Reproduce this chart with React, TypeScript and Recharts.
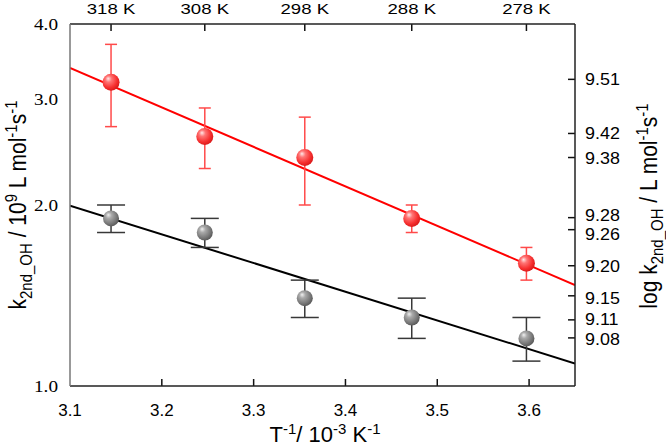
import React from 'react';
import { ComposedChart, XAxis, YAxis, Scatter, Line, ErrorBar, ReferenceLine } from 'recharts';

const temperatures = [318, 308, 298, 288, 278];
const inverseT = [3.1447, 3.2468, 3.3557, 3.4722, 3.5971];
const redK = [3.2, 2.6, 2.4, 1.9, 1.6];
const redErr = [0.5, 0.3, 0.4, 0.1, 0.1];
const grayK = [1.9, 1.8, 1.4, 1.3, 1.2];
const grayErr = [0.1, 0.1, 0.1, 0.1, 0.1];
const fitX = [3.1, 3.65];
const redFitK = [3.38, 1.472];
const grayFitK = [1.995, 1.09];
const bottomTicks = [3.1, 3.2, 3.3, 3.4, 3.5, 3.6];
const leftTicks = [1, 2, 3, 4];
const rightTicks = [9.08, 9.11, 9.15, 9.2, 9.26, 9.28, 9.38, 9.42, 9.51];

const X_DOMAIN: [number, number] = [3.1, 3.65];
const RIGHT_DOMAIN: [number, number] = [9, 9.60206];

const redData = inverseT.map((x, i) => ({ x, y: redK[i], err: redErr[i] }));
const grayData = inverseT.map((x, i) => ({ x, y: grayK[i], err: grayErr[i] }));
const redFit = fitX.map((x, i) => ({ x, y: redFitK[i] }));
const grayFit = fitX.map((x, i) => ({ x, y: grayFitK[i] }));

const SANS = 'Liberation Sans, Arial, sans-serif';
const SERIF = 'Liberation Serif, Times New Roman, serif';

// plot frame (layout only)
const PLOT_LEFT = 70;
const PLOT_RIGHT = 575;
const PLOT_TOP = 24;
// inward tick mark lengths, expressed in axis units (about 7 px)
const TICK_DY = 0.0116;
const TICK_DX = 0.0076;
// small label nudges to keep crowded right-axis labels apart (layout only)
const rightNudge: Record<string, number> = { '9.28': -3, '9.26': 4, '9.15': 2, '9.11': -1, '9.08': 1 };

const RedBall = (p: any) => <circle cx={p.cx} cy={p.cy} r={8.5} fill="url(#redSphere)" />;
const GrayBall = (p: any) => <circle cx={p.cx} cy={p.cy} r={8} fill="url(#graySphere)" />;

const BottomTick = (p: any) => (
  <text x={p.x} y={386 + 30} textAnchor="middle" fontSize={17} fontFamily={SANS} fill="#000">
    {Number(p.payload.value).toFixed(1)}
  </text>
);

const TopTick = (p: any) => {
  const i = inverseT.indexOf(p.payload.value);
  return (
    <text
      transform={`translate(${p.x},${PLOT_TOP - 10}) scale(1.2,1)`}
      textAnchor="middle"
      fontSize={15.5}
      fontFamily={SANS}
      fill="#000"
    >
      {i >= 0 ? `${temperatures[i]} K` : ''}
    </text>
  );
};

const RightTick = (p: any) => {
  const label = Number(p.payload.value).toFixed(2);
  const dy = rightNudge[label] || 0;
  return (
    <text
      transform={`translate(${PLOT_RIGHT + 10},${p.y + 6 + dy}) scale(1.12,1)`}
      textAnchor="start"
      fontSize={16}
      fontFamily={SANS}
      fill="#000"
    >
      {label}
    </text>
  );
};

const LeftTick = (p: any) => (
  <text
    transform={`translate(${PLOT_LEFT - 12},${p.y + 6}) scale(1.2,1)`}
    textAnchor="end"
    fontSize={16}
    fontFamily={SERIF}
    fill="#000"
  >
    {Number(p.payload.value).toFixed(1)}
  </text>
);

export default function App() {
  const tickMarks = [
    ...bottomTicks.filter((t) => t > X_DOMAIN[0]).map((t) => [
      { x: t, y: RIGHT_DOMAIN[0] },
      { x: t, y: RIGHT_DOMAIN[0] + TICK_DY },
    ]),
    ...inverseT.map((t) => [
      { x: t, y: RIGHT_DOMAIN[1] },
      { x: t, y: RIGHT_DOMAIN[1] - TICK_DY },
    ]),
    ...rightTicks.map((v) => [
      { x: X_DOMAIN[1], y: v },
      { x: X_DOMAIN[1] - TICK_DX, y: v },
    ]),
  ];
  return (
    <div style={{ position: 'absolute', left: 0, top: 0, width: 666, height: 448, background: '#fff' }}>
      <svg width={0} height={0} style={{ position: 'absolute' }}>
        <defs>
          <radialGradient id="redSphere" cx="40%" cy="38%" r="62%" fx="33%" fy="28%">
            <stop offset="0%" stopColor="#ffe8e8" />
            <stop offset="30%" stopColor="#ff7575" />
            <stop offset="75%" stopColor="#f63030" />
            <stop offset="100%" stopColor="#dc1c1c" />
          </radialGradient>
          <radialGradient id="graySphere" cx="40%" cy="38%" r="62%" fx="33%" fy="28%">
            <stop offset="0%" stopColor="#f0f0f0" />
            <stop offset="30%" stopColor="#aaaaaa" />
            <stop offset="75%" stopColor="#7a7a7a" />
            <stop offset="100%" stopColor="#5c5c5c" />
          </radialGradient>
        </defs>
      </svg>
      <ComposedChart width={666} height={448} margin={{ top: 0, right: 0, bottom: 0, left: 0 }}>
        <XAxis
          xAxisId="bottom"
          dataKey="x"
          type="number"
          domain={X_DOMAIN}
          ticks={bottomTicks}
          interval={0}
          allowDataOverflow
          height={62}
          stroke="#222"
          strokeWidth={1.5}
          tickLine={false}
          tick={BottomTick}
        />
        <XAxis
          xAxisId="top"
          orientation="top"
          dataKey="x"
          type="number"
          domain={X_DOMAIN}
          ticks={inverseT}
          interval={0}
          allowDataOverflow
          height={24}
          stroke="#222"
          strokeWidth={1.5}
          tickLine={false}
          tick={TopTick}
        />
        <YAxis
          yAxisId="left"
          type="number"
          scale="log"
          domain={[1, 4]}
          ticks={leftTicks}
          interval={0}
          allowDataOverflow
          width={70}
          stroke="#777"
          strokeWidth={1.5}
          tickLine={false}
          tick={LeftTick}
        />
        <YAxis
          yAxisId="right"
          orientation="right"
          type="number"
          domain={RIGHT_DOMAIN}
          ticks={rightTicks}
          interval={0}
          allowDataOverflow
          width={91}
          stroke="#222"
          strokeWidth={1.5}
          tickLine={false}
          tick={RightTick}
        />
        {tickMarks.map((seg, i) => (
          <ReferenceLine
            key={`tm-${i}`}
            xAxisId="bottom"
            yAxisId="right"
            segment={seg}
            stroke="#111"
            strokeWidth={1.5}
            ifOverflow="visible"
          />
        ))}
        <Line
          xAxisId="bottom"
          yAxisId="left"
          data={grayFit}
          dataKey="y"
          type="linear"
          stroke="#000"
          strokeWidth={2}
          dot={false}
          activeDot={false}
          isAnimationActive={false}
        />
        <Line
          xAxisId="bottom"
          yAxisId="left"
          data={redFit}
          dataKey="y"
          type="linear"
          stroke="#ff0000"
          strokeWidth={2}
          dot={false}
          activeDot={false}
          isAnimationActive={false}
        />
        <Scatter
          xAxisId="bottom"
          yAxisId="left"
          data={grayData}
          dataKey="y"
          shape={GrayBall}
          isAnimationActive={false}
        >
          <ErrorBar dataKey="err" direction="y" width={14} stroke="#383838" strokeWidth={1.5} isAnimationActive={false} />
        </Scatter>
        <Scatter
          xAxisId="bottom"
          yAxisId="left"
          data={redData}
          dataKey="y"
          shape={RedBall}
          isAnimationActive={false}
        >
          <ErrorBar dataKey="err" direction="y" width={6} stroke="#ff4a4a" strokeWidth={1.5} isAnimationActive={false} />
        </Scatter>
      </ComposedChart>
      <svg width={666} height={448} style={{ position: 'absolute', left: 0, top: 0, pointerEvents: 'none' }}>
        <text transform="translate(26,205) rotate(-90) scale(1,1.15)" textAnchor="middle" fontSize={21} fontFamily={SANS} fill="#000">
          k<tspan fontSize={15} dy={5}>2nd_OH</tspan>
          <tspan dy={-5}> / 10</tspan>
          <tspan fontSize={15} dy={-8}>9</tspan>
          <tspan dy={8}> L mol</tspan>
          <tspan fontSize={15} dy={-8}>-1</tspan>
          <tspan dy={8}>s</tspan>
          <tspan fontSize={15} dy={-8}>-1</tspan>
        </text>
        <text transform="translate(657,206) rotate(-90) scale(1,1.15)" textAnchor="middle" fontSize={21} fontFamily={SANS} fill="#000">
          log k<tspan fontSize={15} dy={5}>2nd_OH</tspan>
          <tspan dy={-5}> / L mol</tspan>
          <tspan fontSize={15} dy={-8}>-1</tspan>
          <tspan dy={8}>s</tspan>
          <tspan fontSize={15} dy={-8}>-1</tspan>
        </text>
        <text x={325} y={442} textAnchor="middle" fontSize={22} fontFamily={SANS} fill="#000">
          T<tspan fontSize={15} dy={-8}>-1</tspan>
          <tspan dy={8}>/ 10</tspan>
          <tspan fontSize={15} dy={-8}>-3</tspan>
          <tspan dy={8}> K</tspan>
          <tspan fontSize={15} dy={-8}>-1</tspan>
        </text>
      </svg>
    </div>
  );
}
